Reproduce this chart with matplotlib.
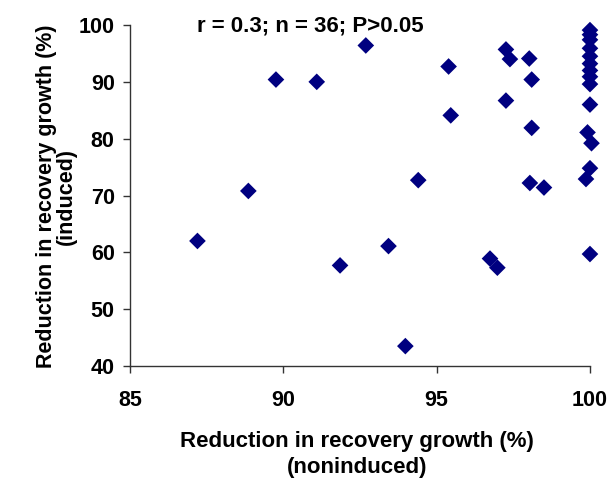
import matplotlib.pyplot as plt

# noninduced (x) vs induced (y) reduction in recovery growth, %
noninduced = [87.2, 88.86, 89.76, 91.09, 91.85, 92.69, 93.43, 93.98, 94.4,
              95.39, 95.46, 96.74, 96.98, 97.26, 97.39, 97.26, 98.02, 98.1,
              98.1, 98.04, 98.5,
              100, 100, 100, 100, 100, 100, 100, 100, 99.92, 100.05, 100,
              99.87, 100, 100, 100]
induced = [62.0, 70.8, 90.4, 90.0, 57.7, 96.4, 61.1, 43.5, 72.7,
           92.7, 84.1, 58.9, 57.3, 95.7, 94.0, 86.7, 94.1, 90.4,
           81.9, 72.2, 71.4,
           99.1, 97.4, 95.9, 94.5, 93.2, 92.0, 89.6, 86.0, 81.1, 79.2, 74.8,
           72.9, 59.7, 98.3, 90.9]

xlabel_lines = ['Reduction in recovery growth (%)', '(noninduced)']
ylabel_lines = ['Reduction in recovery growth (%)', '(induced)']
stats_text = 'r = 0.3; n = 36; P>0.05'

plt.rcParams['font.family'] = ['Liberation Sans', 'DejaVu Sans']
plt.rcParams['font.weight'] = 'bold'

fig = plt.figure(figsize=(6.12, 4.79), dpi=100)
ax = fig.add_axes([0.2124, 0.2359, 0.7516, 0.7119])

ax.scatter(noninduced, induced, marker='D', s=72, color='#000080',
           edgecolors='none', clip_on=False, zorder=3)

ax.set_xlim(85, 100)
ax.set_ylim(40, 100)
ax.set_xticks([85, 90, 95, 100])
ax.set_yticks([40, 50, 60, 70, 80, 90, 100])

for side in ['top', 'right']:
    ax.spines[side].set_visible(False)
for side in ['left', 'bottom']:
    ax.spines[side].set_color('#333333')
    ax.spines[side].set_linewidth(1.0)

ax.tick_params(direction='out', length=5, width=1, color='#333333',
               labelsize=15.5)
ax.tick_params(axis='x', pad=12)
ax.tick_params(axis='y', pad=6)
for lab in ax.get_xticklabels() + ax.get_yticklabels():
    lab.set_fontweight('bold')

# axis titles placed line by line (original has tight, uneven spacing)
fig.text(357 / 612, 1 - 447 / 479, xlabel_lines[0], fontsize=16,
         fontweight='bold', ha='center', va='baseline')
fig.text(357 / 612, 1 - 473 / 479, xlabel_lines[1], fontsize=16,
         fontweight='bold', ha='center', va='baseline')
fig.text(52 / 612, 1 - 196 / 479, ylabel_lines[0], fontsize=15.5,
         fontweight='bold', ha='center', va='baseline', rotation=90,
         rotation_mode='anchor')
fig.text(72 / 612, 1 - 196 / 479, ylabel_lines[1], fontsize=15.5,
         fontweight='bold', ha='center', va='baseline', rotation=90,
         rotation_mode='anchor')

ax.text(0.1457, 0.9795, stats_text, transform=ax.transAxes,
        fontsize=16, fontweight='bold', va='baseline', ha='left')

fig.savefig('out.png', dpi=100)
